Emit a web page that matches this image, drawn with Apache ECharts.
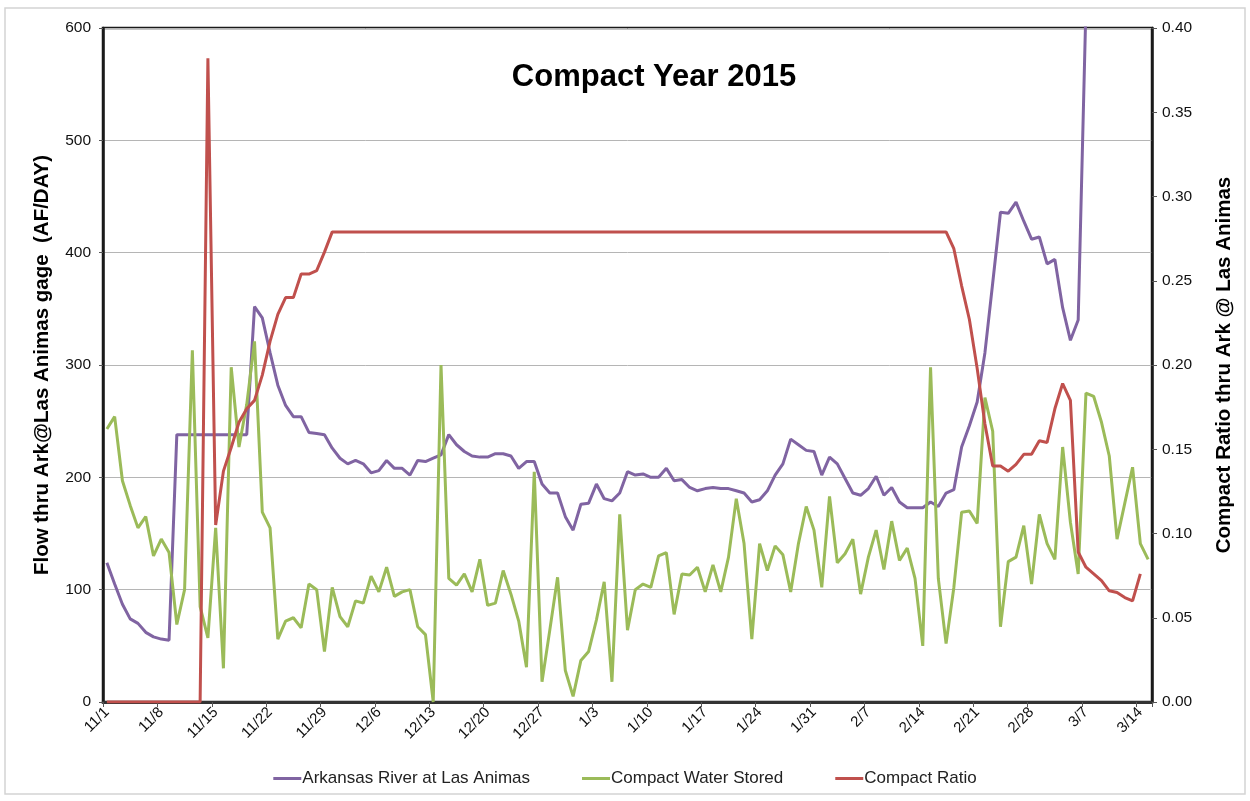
<!DOCTYPE html>
<html>
<head>
<meta charset="utf-8">
<script src="https://cdn.jsdelivr.net/npm/echarts@6/dist/echarts.min.js"></script>
<style>
html,body{margin:0;padding:0;background:#fff;}
#chart{width:1250px;height:801px;}
</style>
</head>
<body>
<div id="chart"></div>
<script>
// ---- Data ----
const monthNames = [11, 12, 1, 2, 3];
const monthDays = [30, 31, 31, 28, 15];
const categories = [];
for (let m = 0; m < monthNames.length; m++) {
  for (let d = 1; d <= monthDays[m]; d++) categories.push(monthNames[m] + '/' + d);
}

const riverFlow = [
  124,105,87,74,70,62,58,56,55,238,
  238,238,238,238,238,238,238,238,238,352,
  342,311,282,264,254,254,240,239,238,226,
  217,212,215,212,204,206,215,208,208,202,
  215,214,217,220,238,229,223,219,218,218,
  221,221,219,208,214,214,194,186,186,165,
  153,176,177,194,181,179,186,205,202,203,
  200,200,208,197,198,191,188,190,191,190,
  190,188,186,178,180,188,202,212,234,229,
  224,223,202,218,212,199,186,184,190,201,
  184,191,178,173,173,173,178,174,186,189,
  227,246,267,311,373,436,435,445,428,412,
  414,390,394,351,322,340,620,null,null,null,
  null,null,null,null,null
];

const waterStored = [
  243,254,197,175,155,165,130,145,133,69,
  100,313,85,57,155,30,298,227,265,321,
  169,155,56,72,75,66,105,100,45,102,
  76,67,90,88,112,98,120,94,98,100,
  67,60,0,300,110,104,114,98,127,86,
  88,117,96,72,31,205,18,64,111,28,
  5,37,45,73,107,18,167,64,100,105,
  102,130,133,78,114,113,120,98,122,98,
  129,181,141,56,141,117,139,131,98,141,
  174,153,102,183,124,132,145,96,129,153,
  118,161,126,137,110,50,298,110,52,102,
  169,170,159,271,241,67,125,129,157,105,
  167,141,127,227,160,114,275,272,249,219,
  145,177,209,141,127
];

const compactRatio = [
  0,0,0,0,0,0,0,0,0,0,
  0,0,0,0.382,0.105,0.137,0.151,0.166,0.174,0.179,
  0.194,0.214,0.230,0.240,0.240,0.254,0.254,0.256,0.267,0.279,
  0.279,0.279,0.279,0.279,0.279,0.279,0.279,0.279,0.279,0.279,
  0.279,0.279,0.279,0.279,0.279,0.279,0.279,0.279,0.279,0.279,
  0.279,0.279,0.279,0.279,0.279,0.279,0.279,0.279,0.279,0.279,
  0.279,0.279,0.279,0.279,0.279,0.279,0.279,0.279,0.279,0.279,
  0.279,0.279,0.279,0.279,0.279,0.279,0.279,0.279,0.279,0.279,
  0.279,0.279,0.279,0.279,0.279,0.279,0.279,0.279,0.279,0.279,
  0.279,0.279,0.279,0.279,0.279,0.279,0.279,0.279,0.279,0.279,
  0.279,0.279,0.279,0.279,0.279,0.279,0.279,0.279,0.279,0.269,
  0.247,0.227,0.198,0.165,0.140,0.140,0.137,0.141,0.147,0.147,
  0.155,0.154,0.174,0.189,0.179,0.089,0.080,0.076,0.072,0.066,
  0.065,0.062,0.060,0.076,null
];

const seriesNames = ['Arkansas River at Las Animas', 'Compact Water Stored', 'Compact Ratio'];
const colors = ['#8064A2', '#9BBB59', '#C0504D'];

const FONT = '"Liberation Sans", Arial, sans-serif';
const chart = echarts.init(document.getElementById('chart'), null, {renderer: 'canvas'});

chart.setOption({
  backgroundColor: '#fff',
  animation: false,
  textStyle: {fontFamily: FONT},
  title: {
    text: 'Compact Year 2015',
    left: 649, top: 57, textAlign: 'center',
    textStyle: {fontFamily: FONT, fontSize: 31, fontWeight: 'bold', color: '#000'}
  },
  graphic: [{
    type: 'rect', silent: true, z: -10,
    shape: {x: 5, y: 8, width: 1240, height: 786},
    style: {fill: 'none', stroke: '#d4d4d4', lineWidth: 1.5}
  }],
  legend: {
    bottom: 9, left: 'center',
    icon: 'rect', itemWidth: 28, itemHeight: 3, itemGap: 52,
    textStyle: {fontFamily: FONT, fontSize: 17, color: '#222', padding: [0,0,0,-4]},
    data: seriesNames
  },
  grid: {
    left: 103, right: 98, top: 28, bottom: 99,
    show: true, borderColor: '#1a1a1a', borderWidth: 2.5, containLabel: false
  },
  xAxis: {
    type: 'category', data: categories, boundaryGap: true,
    axisLine: {lineStyle: {color: '#333', width: 3}},
    axisTick: {show: true, interval: 6, length: 5, lineStyle: {color: '#555'}},
    axisLabel: {interval: 6, rotate: 45, margin: 8, fontSize: 15, color: '#111', fontFamily: FONT},
    splitLine: {show: false}
  },
  yAxis: [{
    type: 'value', min: 0, max: 600, interval: 100, position: 'left',
    name: 'Flow thru Ark@Las Animas gage  (AF/DAY)', nameLocation: 'middle', nameRotate: 90, nameGap: 50,
    nameTextStyle: {fontFamily: FONT, fontSize: 20.5, fontWeight: 'bold', color: '#000'},
    axisLine: {show: true, lineStyle: {color: '#1a1a1a', width: 2.5}},
    axisTick: {show: true, length: 4, lineStyle: {color: '#555'}},
    axisLabel: {fontSize: 15.5, color: '#111', margin: 12, fontFamily: FONT},
    splitLine: {show: true, lineStyle: {color: '#b5b5b5', width: 1}}
  }, {
    type: 'value', min: 0, max: 0.4, interval: 0.05, position: 'right',
    name: 'Compact Ratio thru Ark @ Las Animas', nameLocation: 'middle', nameRotate: 90, nameGap: 62,
    nameTextStyle: {fontFamily: FONT, fontSize: 20.5, fontWeight: 'bold', color: '#000'},
    axisLine: {show: true, lineStyle: {color: '#1a1a1a', width: 2.5}},
    axisTick: {show: true, length: 5, lineStyle: {color: '#555'}},
    axisLabel: {fontSize: 15.5, color: '#111', margin: 10, fontFamily: FONT,
      formatter: v => v.toFixed(2)},
    splitLine: {show: false}
  }],
  series: [{
    name: seriesNames[0], type: 'line', yAxisIndex: 0, data: riverFlow,
    symbol: 'none', color: colors[0], lineStyle: {width: 3, color: colors[0]}, clip: true
  }, {
    name: seriesNames[1], type: 'line', yAxisIndex: 0, data: waterStored,
    symbol: 'none', color: colors[1], lineStyle: {width: 3, color: colors[1]}, clip: true
  }, {
    name: seriesNames[2], type: 'line', yAxisIndex: 1, data: compactRatio,
    symbol: 'none', color: colors[2], lineStyle: {width: 3, color: colors[2]}, clip: true
  }]
});
</script>
</body>
</html>
